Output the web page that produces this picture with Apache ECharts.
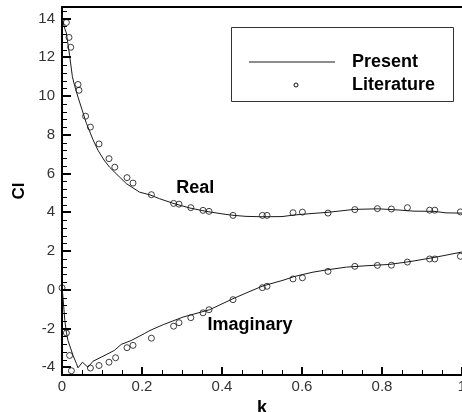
<!DOCTYPE html>
<html>
<head>
<meta charset="utf-8">
<script src="https://cdn.jsdelivr.net/npm/echarts@6/dist/echarts.min.js"></script>
<style>
  html, body { margin: 0; padding: 0; background: #fff; }
  #chart { width: 462px; height: 412px; }
</style>
</head>
<body>
<div id="chart"></div>
<script>
// Present solution: real part of Cl versus k
const presentRealK = [0, 0.005, 0.011, 0.019, 0.026, 0.032, 0.04, 0.05, 0.061, 0.0775, 0.09, 0.105, 0.119, 0.14, 0.161, 0.194, 0.22, 0.244, 0.28, 0.32, 0.36, 0.40, 0.43, 0.46, 0.50, 0.55, 0.58, 0.62, 0.665, 0.70, 0.73, 0.79, 0.84, 0.88, 0.93, 0.96, 1.0];
const presentReal  = [14.2, 13.6, 13.25, 12.1, 11.0, 10.5, 9.95, 9.3, 8.6, 7.75, 7.2, 6.7, 6.33, 5.9, 5.48, 5.04, 4.9, 4.7, 4.45, 4.22, 4.05, 3.92, 3.84, 3.79, 3.77, 3.78, 3.86, 3.93, 4.0, 4.08, 4.15, 4.18, 4.12, 4.06, 4.05, 3.97, 3.96];

// Present solution: imaginary part of Cl versus k
const presentImagK = [0, 0.0025, 0.007, 0.011, 0.015, 0.0275, 0.036, 0.04, 0.051, 0.065, 0.0775, 0.098, 0.131, 0.148, 0.173, 0.207, 0.22, 0.253, 0.3025, 0.369, 0.4275, 0.47, 0.5025, 0.5525, 0.58, 0.6275, 0.66, 0.711, 0.76, 0.819, 0.8775, 0.936, 1.0];
const presentImag  = [0.2, -0.4, -1.58, -2.2, -2.62, -3.39, -3.8, -4.03, -3.74, -4.0, -3.69, -3.48, -3.13, -2.82, -2.62, -2.25, -2.1, -1.8, -1.41, -1.03, -0.46, -0.08, 0.2, 0.49, 0.68, 0.91, 1.02, 1.17, 1.24, 1.31, 1.48, 1.69, 1.95];

// Literature values (open circles)
const litRealK = [0.011, 0.0175, 0.0218, 0.04, 0.0425, 0.059, 0.071, 0.0925, 0.1175, 0.132, 0.1625, 0.1775, 0.2235, 0.279, 0.2925, 0.322, 0.3525, 0.3675, 0.4275, 0.501, 0.5125, 0.5775, 0.601, 0.665, 0.732, 0.7885, 0.8235, 0.8635, 0.919, 0.932, 0.996];
const litReal  = [13.8, 13.03, 12.52, 10.6, 10.3, 8.96, 8.4, 7.53, 6.77, 6.33, 5.79, 5.51, 4.91, 4.46, 4.42, 4.24, 4.1, 4.05, 3.84, 3.84, 3.84, 3.98, 4.01, 3.96, 4.14, 4.19, 4.17, 4.24, 4.11, 4.11, 4.02];
const litImagK = [0, 0.011, 0.019, 0.0235, 0.071, 0.0925, 0.1175, 0.134, 0.1625, 0.1775, 0.2235, 0.279, 0.2925, 0.322, 0.3525, 0.3675, 0.4275, 0.501, 0.5125, 0.5775, 0.601, 0.665, 0.732, 0.7885, 0.8235, 0.8635, 0.919, 0.932, 0.996];
const litImag  = [0.1, -2.23, -3.39, -4.18, -4.04, -3.91, -3.74, -3.51, -2.99, -2.87, -2.5, -1.88, -1.7, -1.44, -1.19, -1.03, -0.51, 0.11, 0.18, 0.56, 0.62, 0.95, 1.21, 1.26, 1.27, 1.43, 1.59, 1.59, 1.73];

// Curve annotations: text and the (k, Cl) point they sit on
const realLabel = { text: 'Real', at: [0.333, 5.23] };
const imagLabel = { text: 'Imaginary', at: [0.47, -1.82] };

// Axis ranges and tick values
const xMin = 0, xMax = 1, xTickStep = 0.2, xMinorStep = 0.05;
const yMin = -4.4, yMax = 14.6, yMinorStep = 0.4;
const yMajorTicks = [-4, -2, 0, 2, 4, 6, 8, 10, 12, 14];

const round = v => Math.round(v * 1000) / 1000;
const isMultiple = (v, step) => Math.abs(v / step - Math.round(v / step)) < 1e-6;

const xTicks = [];
for (let v = xMin; v <= xMax + 1e-9; v = round(v + xMinorStep)) xTicks.push(v);
const yTicks = [];
for (let v = round(Math.ceil(yMin / yMinorStep) * yMinorStep); v <= yMax + 1e-9; v = round(v + yMinorStep)) yTicks.push(v);

const pairs = (xs, ys) => xs.map((x, i) => [x, ys[i]]);

const FONT = '"Liberation Sans", Arial, sans-serif';
const chart = echarts.init(document.getElementById('chart'), null, { renderer: 'canvas' });

const lineStyle = { color: '#1a1a1a', width: 1 };
const circleStyle = { color: 'transparent', borderColor: '#111', borderWidth: 1 };
const bold = { fontFamily: FONT, fontWeight: 'bold', fontSize: 18, color: '#000' };

// Text placed on the curve through a zero-size mark point
const annotation = a => ({
  symbol: 'circle', symbolSize: 0, silent: true,
  label: Object.assign({ show: true, position: 'inside', formatter: a.text }, bold),
  data: [{ coord: a.at }]
});

chart.setOption({
  animation: false,
  backgroundColor: '#fff',
  grid: { left: 62, right: 0, top: 7, bottom: 37, outerBoundsMode: 'none' },
  xAxis: [{
    type: 'value', min: xMin, max: xMax, interval: xTickStep,
    name: 'k', nameLocation: 'middle', nameGap: 18,
    nameTextStyle: { fontFamily: FONT, fontWeight: 'bold', fontSize: 18, color: '#000' },
    axisLine: { show: true, onZero: false, lineStyle: { color: '#000', width: 2 } },
    axisTick: { show: false },
    axisLabel: { fontFamily: FONT, fontSize: 15, color: '#333', margin: 4,
      formatter: v => (Math.round(v * 10) / 10).toString() },
    splitLine: { show: false }
  }, {
    type: 'value', position: 'top', min: xMin, max: xMax,
    axisLine: { show: true, onZero: false, lineStyle: { color: '#000', width: 2 } },
    axisTick: { show: false }, axisLabel: { show: false }, splitLine: { show: false }
  }],
  yAxis: [{
    type: 'value', min: yMin, max: yMax, position: 'left',
    name: 'Cl', nameLocation: 'middle', nameGap: 30, nameRotate: 90,
    nameTextStyle: { fontFamily: FONT, fontWeight: 'bold', fontSize: 17, color: '#000' },
    axisLine: { show: true, onZero: false, lineStyle: { color: '#000', width: 2 } },
    axisTick: { show: false },
    axisLabel: { fontFamily: FONT, fontSize: 15, color: '#333', margin: 7, customValues: yMajorTicks },
    splitLine: { show: false }
  }],
  series: [
    { name: 'Present', type: 'line', data: pairs(presentRealK, presentReal), showSymbol: false, lineStyle,
      markPoint: annotation(realLabel) },
    { name: 'Present', type: 'line', data: pairs(presentImagK, presentImag), showSymbol: false, lineStyle,
      markPoint: annotation(imagLabel) },
    { name: 'Literature', type: 'scatter', data: pairs(litRealK, litReal), symbol: 'circle', symbolSize: 6, itemStyle: circleStyle },
    { name: 'Literature', type: 'scatter', data: pairs(litImagK, litImag), symbol: 'circle', symbolSize: 6, itemStyle: circleStyle }
  ]
});

// Inward tick marks, placed through the axis scales
const x0 = chart.convertToPixel({ xAxisIndex: 0 }, xMin);
const yBottom = chart.convertToPixel({ yAxisIndex: 0 }, yMin);
const tickLines = [];
xTicks.forEach(v => {
  const major = isMultiple(v, xTickStep);
  const w = major ? 2 : 1;
  const x = Math.round(chart.convertToPixel({ xAxisIndex: 0 }, v)) + (w % 2 ? 0.5 : 0);
  tickLines.push({ type: 'line', z: 50, silent: true,
    shape: { x1: x, y1: yBottom, x2: x, y2: yBottom - (major ? 8 : 5) },
    style: { stroke: '#000', lineWidth: w } });
});
yTicks.forEach(v => {
  const major = isMultiple(v, 2);
  const w = major ? 2 : 1;
  const y = Math.round(chart.convertToPixel({ yAxisIndex: 0 }, v)) + (w % 2 ? 0.5 : 0);
  tickLines.push({ type: 'line', z: 50, silent: true,
    shape: { x1: x0, y1: y, x2: x0 + (major ? 9 : 5), y2: y },
    style: { stroke: '#000', lineWidth: w } });
});

// Legend box
const legendItems = [
  { type: 'rect', z: 50, shape: { x: 231.5, y: 27.5, width: 222, height: 74 }, style: { fill: '#fff', stroke: '#333', lineWidth: 1 } },
  { type: 'line', z: 51, shape: { x1: 249, y1: 62, x2: 335, y2: 62 }, style: { stroke: '#1a1a1a', lineWidth: 1 } },
  { type: 'circle', z: 51, shape: { cx: 296, cy: 85, r: 2 }, style: { fill: '#fff', stroke: '#111', lineWidth: 1 } },
  { type: 'text', z: 51, x: 352, y: 62, style: { text: 'Present', align: 'left', verticalAlign: 'middle', font: 'bold 18px ' + FONT, fill: '#000' } },
  { type: 'text', z: 51, x: 352, y: 85, style: { text: 'Literature', align: 'left', verticalAlign: 'middle', font: 'bold 18px ' + FONT, fill: '#000' } }
];

chart.setOption({ graphic: tickLines.concat(legendItems) });
</script>
</body>
</html>
